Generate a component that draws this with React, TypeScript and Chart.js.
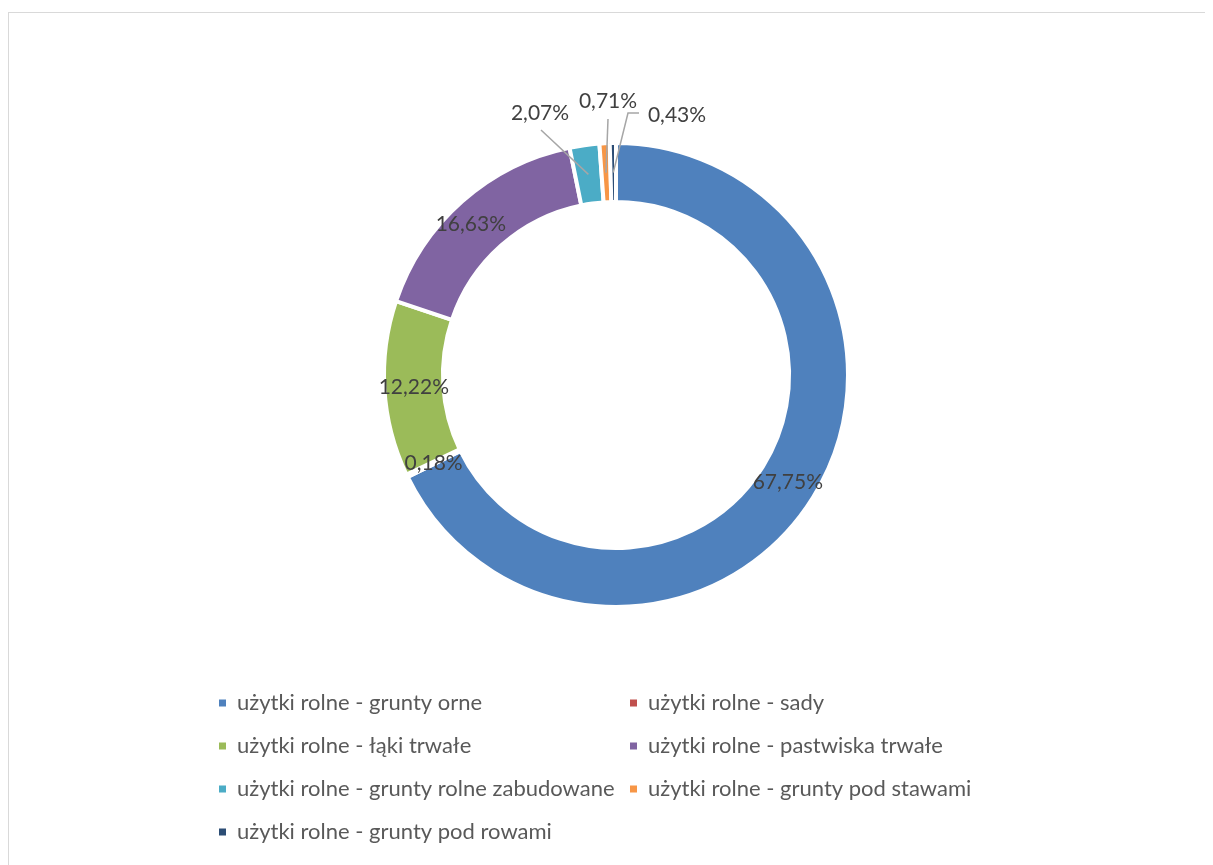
import React, { useEffect, useRef } from "react";
import { Chart, registerables } from "chart.js";

Chart.register(...registerables);

const categories = [
  "użytki rolne - grunty orne",
  "użytki rolne - sady",
  "użytki rolne - łąki trwałe",
  "użytki rolne - pastwiska trwałe",
  "użytki rolne - grunty rolne zabudowane",
  "użytki rolne - grunty pod stawami",
  "użytki rolne - grunty pod rowami",
];
const shares = [67.75, 0.18, 12.22, 16.63, 2.07, 0.71, 0.43];
const sliceColors = ["#4f81bd", "#c0504d", "#9bbb59", "#8064a2", "#4bacc6", "#f79646", "#2c4d75"];

// label placement for small slices (offsets from the doughnut centre, px)
const outsideLabels: Record<number, { label: [number, number]; from: [number, number]; elbow?: [number, number] }> = {
  4: { label: [-76, -262], from: [-75, -245] },
  5: { label: [-8, -274], from: [-8, -256] },
  6: { label: [61, -260], from: [23, -262], elbow: [12, -262] },
};
// small nudges for inside labels (Excel best-fit)
const insideNudge: Record<number, [number, number]> = {
  3: [-11, 1],
};

const FONT = "Lato, 'Open Sans', sans-serif";

const fmt = (v: number) => v.toFixed(2).replace(".", ",") + "%";

const labelPlugin = {
  id: "excelLabels",
  afterDatasetsDraw(chart: any) {
    const meta = chart.getDatasetMeta(0);
    const ctx = chart.ctx;
    ctx.save();
    ctx.font = `21px ${FONT}`;
    ctx.fillStyle = "#404040";
    ctx.textAlign = "center";
    ctx.textBaseline = "middle";
    meta.data.forEach((arc: any, i: number) => {
      const { x, y, startAngle, endAngle, innerRadius, outerRadius } = arc.getProps(
        ["x", "y", "startAngle", "endAngle", "innerRadius", "outerRadius"],
        true
      );
      const mid = (startAngle + endAngle) / 2;
      const r = (innerRadius + outerRadius) / 2;
      const px = x + Math.cos(mid) * r;
      const py = y + Math.sin(mid) * r;
      const text = fmt(shares[i]);
      const o = outsideLabels[i];
      if (o) {
        ctx.strokeStyle = "#a6a6a6";
        ctx.lineWidth = 1.5;
        ctx.beginPath();
        ctx.moveTo(x + o.from[0], y + o.from[1]);
        if (o.elbow) ctx.lineTo(x + o.elbow[0], y + o.elbow[1]);
        ctx.lineTo(px, py);
        ctx.stroke();
        ctx.fillText(text, x + o.label[0], y + o.label[1]);
      } else {
        const n = insideNudge[i] || [0, 0];
        ctx.fillText(text, px + n[0], py + n[1]);
      }
    });
    ctx.restore();
  },
};

const legendPlugin = {
  id: "gridLegend",
  afterDraw(chart: any) {
    const ctx = chart.ctx;
    const colX = [210, 621];
    const rowY0 = 690;
    const rowGap = 43;
    ctx.save();
    ctx.font = `22px ${FONT}`;
    ctx.textAlign = "left";
    ctx.textBaseline = "middle";
    categories.forEach((name, i) => {
      const cx = colX[i % 2];
      const cy = rowY0 + Math.floor(i / 2) * rowGap;
      ctx.fillStyle = sliceColors[i];
      ctx.fillRect(cx, cy - 3.5, 7, 7);
      ctx.fillStyle = "#595959";
      ctx.fillText(name, cx + 18, cy);
    });
    ctx.restore();
  },
};

export default function App() {
  const ref = useRef<HTMLCanvasElement>(null);
  useEffect(() => {
    if (!ref.current) return;
    const chart = new Chart(ref.current, {
      type: "doughnut",
      data: {
        labels: categories,
        datasets: [
          {
            data: shares,
            backgroundColor: sliceColors,
            borderColor: "#ffffff",
            borderWidth: 4,
          },
        ],
      },
      options: {
        responsive: false,
        animation: false,
        cutout: "74.6%",
        layout: { padding: { top: 128, bottom: 256, left: 10, right: 0 } },
        plugins: {
          legend: { display: false },
          tooltip: { enabled: false },
        },
      },
      plugins: [labelPlugin, legendPlugin],
    });
    return () => chart.destroy();
  }, []);
  return (
    <div style={{ paddingTop: 4 }}>
      <div
        style={{
          width: 1204,
          height: 852,
          borderLeft: "1px solid #d9d9d9",
          borderTop: "1px solid #d9d9d9",
        }}
      >
        <canvas ref={ref} width={1204} height={852} style={{ display: "block" }} />
      </div>
    </div>
  );
}
